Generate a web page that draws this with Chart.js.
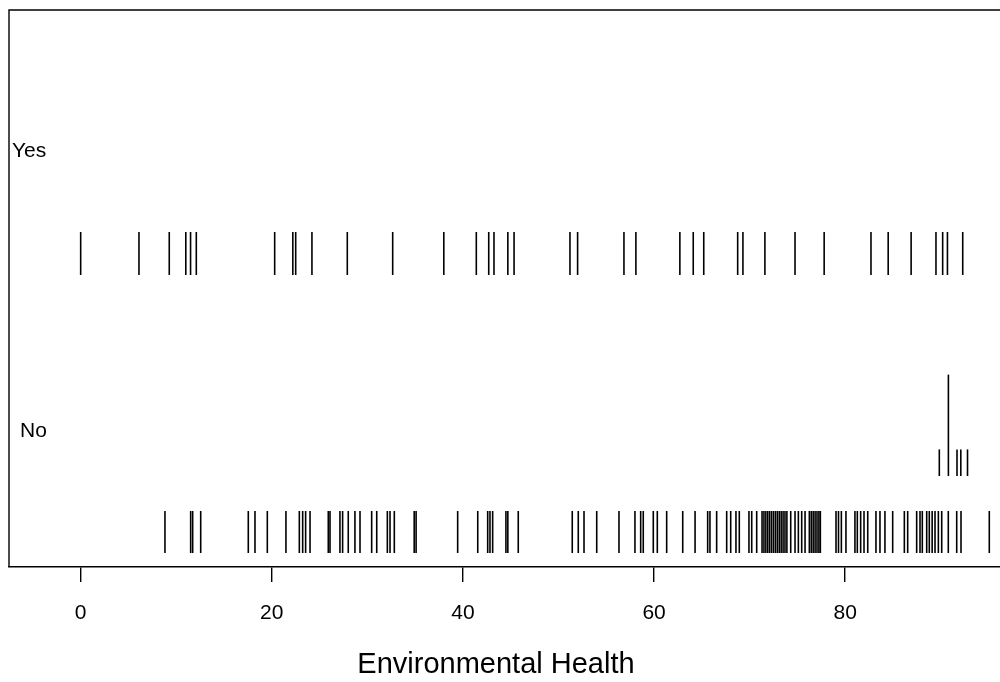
<!DOCTYPE html>
<html>
<head>
<meta charset="utf-8">
<script src="https://cdn.jsdelivr.net/npm/chart.js@4/dist/chart.umd.min.js"></script>
<style>
html,body{margin:0;padding:0;background:#fff;}
canvas{display:block;}
</style>
</head>
<body>
<canvas id="c" width="1000" height="682"></canvas>
<script>
// Group labels
const groups = ["No", "Yes"];
// Environmental Health values, group "Yes"
const yesValues = [0, 6.1, 9.27, 11.0, 11.5, 12.1, 20.3, 22.2, 22.5, 24.2, 27.9,
  32.65, 38.0, 41.4, 42.7, 43.25, 44.7, 45.35, 51.2, 52.0, 56.85, 58.1, 62.7,
  64.1, 65.2, 68.75, 69.3, 71.6, 74.75, 77.8, 82.7, 84.5, 86.9, 89.5, 90.2, 90.7, 92.3];
// Environmental Health values, group "No" (first occurrence)
const noValues = [8.82, 11.51, 11.72, 12.56, 17.54, 18.24, 19.53, 21.48, 22.88, 23.23, 23.54, 24.0,
  25.91, 26.09, 27.13, 27.41, 28.0, 28.7, 29.23, 30.45, 30.98, 32.09, 32.37, 32.82, 34.9, 35.1,
  39.45, 41.55, 42.59, 42.83, 43.11, 44.5, 44.7, 45.79,
  51.44, 52.07, 52.67, 54.0, 56.33, 58.0, 58.6, 58.87, 59.92, 60.34, 61.32, 63.0, 64.29,
  65.61, 65.85, 66.55, 67.6, 68.02, 68.57, 68.92, 69.93, 70.22, 70.74,
  71.3, 71.5, 71.7, 71.9, 72.1, 72.3, 72.5, 72.7, 72.9, 73.1, 73.3, 73.5, 73.7, 73.9,
  74.3, 74.75, 75.1, 75.45, 75.8, 76.25, 76.45, 76.65, 76.85, 77.05, 77.25, 77.4,
  79.04, 79.3, 79.6, 80.08, 81.02, 81.27, 81.62, 81.97, 82.36, 83.22, 83.64, 84.16, 84.97,
  86.19, 86.54, 87.48, 87.83, 88.07, 88.53, 88.8, 89.1, 89.4, 89.75, 90.1, 90.79, 91.67, 92.12, 95.08];
// Stacked duplicates in group "No"
const noStackValues = [89.85, 91.7, 92.1, 92.8];
const noStackTallValues = [90.8];
// Axis ticks
const xTicks = [0, 20, 40, 60, 80];
const xTitle = "Environmental Health";

const FONT = "'Liberation Sans', Arial, Helvetica, sans-serif";

function pts(vals, level) { return vals.map(v => ({x: v, y: level})); }
function ds(vals, level, r) {
  return {
    data: pts(vals, level),
    pointStyle: 'line',
    rotation: 90,
    radius: r,
    hoverRadius: r,
    borderColor: '#000',
    backgroundColor: '#000',
    borderWidth: 1.6,
    showLine: false,
    clip: false
  };
}

const decor = {
  id: 'decor',
  afterDraw(chart) {
    const ctx = chart.ctx;
    const a = chart.chartArea;
    ctx.save();
    ctx.strokeStyle = '#000';
    ctx.lineWidth = 1.4;
    ctx.beginPath();
    ctx.moveTo(a.right + 5, a.top);
    ctx.lineTo(a.left, a.top);
    ctx.lineTo(a.left, a.bottom);
    ctx.stroke();
    ctx.fillStyle = '#000';
    ctx.font = "21px " + FONT;
    ctx.textAlign = 'left';
    ctx.textBaseline = 'middle';
    ctx.fillText(groups[1], 12, 151);
    ctx.fillText(groups[0], 20, 431);
    ctx.font = "29px " + FONT;
    ctx.textAlign = 'center';
    ctx.textBaseline = 'alphabetic';
    ctx.fillText(xTitle, 496, 673);
    ctx.restore();
  }
};

new Chart(document.getElementById('c'), {
  type: 'scatter',
  data: {
    datasets: [
      ds(yesValues, 313.5, 21.5),
      ds(noValues, 35, 21),
      ds(noStackValues, 104.3, 13.3),
      ds(noStackTallValues, 141.7, 50.7)
    ]
  },
  options: {
    responsive: false,
    devicePixelRatio: 1,
    animation: false,
    events: [],
    layout: { autoPadding: false, padding: { left: 9, top: 10, right: 0, bottom: 0 } },
    plugins: { legend: { display: false }, tooltip: { enabled: false } },
    scales: {
      x: {
        type: 'linear',
        min: -7.5,
        max: 96.2,
        afterBuildTicks(scale) { scale.ticks = xTicks.map(v => ({value: v})); },
        afterFit(scale) { scale.height = 115; scale.paddingLeft = 0; scale.paddingRight = 0; },
        grid: { drawOnChartArea: false, drawTicks: true, tickLength: 15, color: '#000', lineWidth: 1.4 },
        border: { display: true, color: '#000', width: 1.4 },
        ticks: { color: '#000', padding: 19, font: { size: 21, family: FONT }, maxRotation: 0, autoSkip: false }
      },
      y: {
        type: 'linear',
        display: false,
        min: 0,
        max: 557
      }
    }
  },
  plugins: [decor]
});
</script>
</body>
</html>
